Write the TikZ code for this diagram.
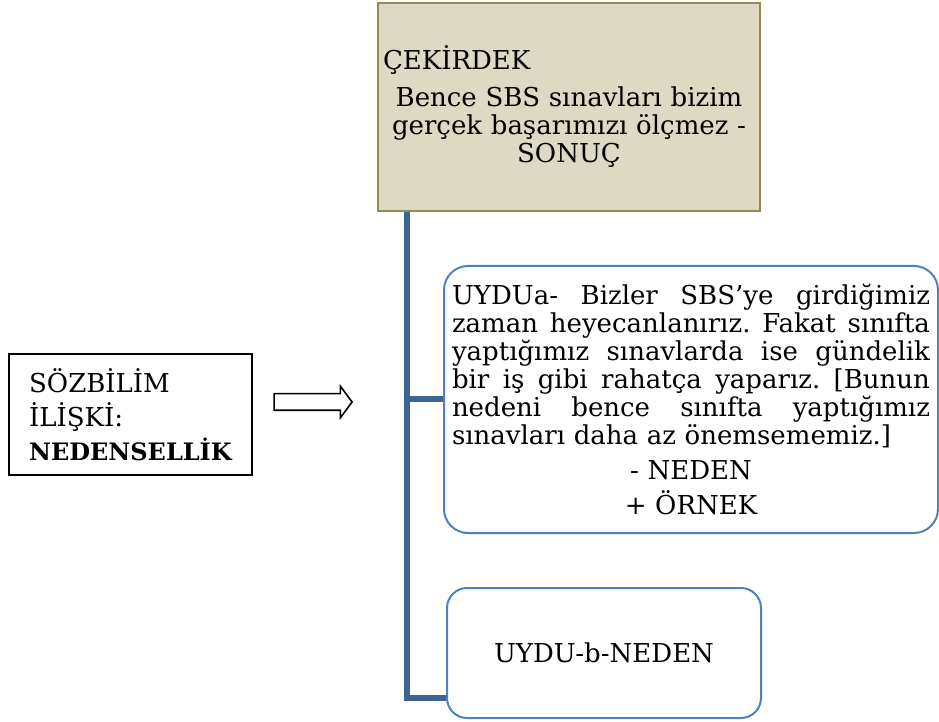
\documentclass[tikz,border=0pt]{standalone}
\usepackage{fontspec}
\setmainfont{DejaVu Serif}
\usetikzlibrary{shapes.arrows,calc}
\definecolor{tanfill}{RGB}{221,217,195}
\definecolor{tanline}{RGB}{148,138,84}
\definecolor{satline}{RGB}{79,129,189}
\definecolor{trunkblue}{RGB}{62,100,150}
\newcommand\jline[1]{\leavevmode\hbox to 239pt{\spaceskip=0.3em plus 1fil\xspaceskip=\spaceskip #1}}
\newcommand\midline[1]{\makebox[239pt]{#1}}

\begin{document}
\begin{tikzpicture}[x=0.5pt,y=-0.5pt,font=\fontsize{13}{14}\selectfont,
    core/.style={rectangle, draw=tanline, fill=tanfill, line width=1pt, minimum width=191pt, minimum height=104pt, text width=186pt, align=center, inner sep=0pt},
    sat/.style={rectangle, draw=satline, line width=1pt, rounded corners=12pt, inner sep=0pt},
    trunk/.style={draw=trunkblue, line width=3pt}]
    \useasboundingbox (0,0) rectangle (939,722);

    \node[core] (core) at (569,107) {\makebox[186pt][l]{ÇEKİRDEK}\\[4.5pt]Bence SBS sınavları bizim\\gerçek başarımızı ölçmez -\\SONUÇ};

    \node[sat, minimum width=247pt, minimum height=133.5pt, text width=239pt, align=left] (uyduA) at (691,399.5) {\jline{UYDUa- Bizler SBS’ye girdiğimiz}\\
        \jline{zaman heyecanlanırız. Fakat sınıfta}\\
        \jline{yaptığımız sınavlarda ise gündelik}\\
        \jline{bir iş gibi rahatça yaparız. [Bunun}\\
        \jline{nedeni bence sınıfta yaptığımız}\\
        \leavevmode\hbox{\xspaceskip=0.3em sınavları daha az önemsememiz.]}\\[3.5pt]
        \midline{- NEDEN}\\[3.5pt]
        \midline{+ ÖRNEK}};

    \node[sat, rounded corners=10pt, minimum width=157pt, minimum height=65pt] (uyduB) at (604,653) {UYDU-b-NEDEN};

    \node[draw, line width=1pt, minimum width=121.5pt, minimum height=60.5pt, align=left] (soz) at (130.5,414.5) {SÖZBİLİM\\[3pt]İLİŞKİ:\\[3pt]{\fontsize{12}{14}\selectfont\bfseries NEDENSELLİK}};

    \node[single arrow, draw, line width=0.8pt, minimum height=39pt, minimum width=15pt, single arrow head extend=3.75pt, single arrow tip angle=107, inner sep=0pt, inner ysep=3.75pt] (arrow) at (310,402) {};

    \coordinate (root) at ([xshift=15pt]core.south west);
    \coordinate (tipA) at (uyduA.west);
    \coordinate (tipB) at ([yshift=10.5pt]uyduB.south west);
    \foreach \t in {tipA,tipB}
        \draw[trunk] (root) |- (\t);

\end{tikzpicture}
\end{document}
